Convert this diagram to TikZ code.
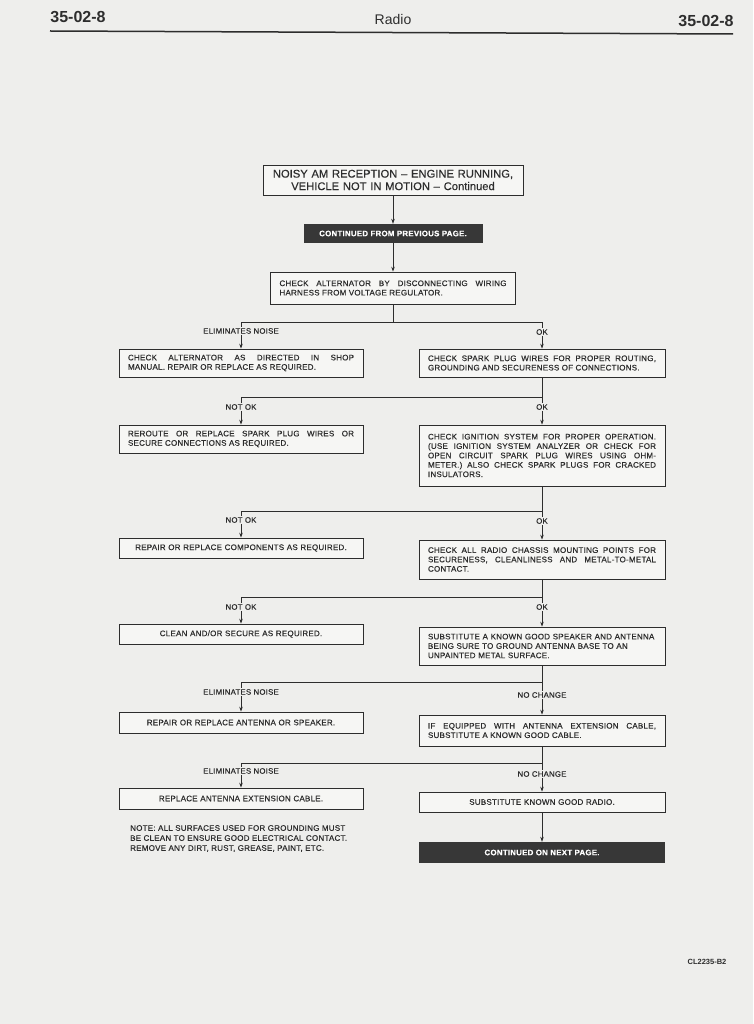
\documentclass[tikz,border=0pt]{standalone}
\usepackage{fontspec}
\setmainfont{Liberation Sans}
\newfontfamily\boxfont{Liberation Sans}[LetterSpace=3.0, FakeBold=0.5]
\newfontfamily\titlefont{Liberation Sans}[FakeBold=0.4]
\usetikzlibrary{arrows.meta,positioning}
\definecolor{paper}{RGB}{238,238,236}
\definecolor{boxfill}{RGB}{246,246,244}
\definecolor{ink}{RGB}{45,45,45}
\definecolor{bannerc}{RGB}{55,55,55}
\hyphenpenalty=10000
\exhyphenpenalty=10000

\begin{document}
\begin{tikzpicture}[x=1pt, y=-1pt,
  stepbox/.style={draw=ink, fill=boxfill, line width=0.7pt, text=ink,
                  font=\boxfont\fontsize{8}{9.4}\selectfont, align=justify,
                  inner xsep=9pt, inner ysep=2pt},
  lbox/.style={stepbox, text width=226pt},
  rbox/.style={stepbox, text width=228pt},
  banner/.style={fill=bannerc, text=white, align=center,
                 font=\boxfont\bfseries\fontsize{7.9}{9}\selectfont},
  tag/.style={fill=paper, inner sep=1pt, text=ink,
              font=\boxfont\fontsize{7.8}{8}\selectfont},
  arr/.style={-{Stealth[length=5pt,width=3.5pt]}, line width=0.7pt, color=ink},
  wire/.style={line width=0.7pt, color=ink}
]
  \fill[paper] (0,0) rectangle (753,1024);
  \useasboundingbox (0,0) rectangle (753,1024);

  % page header
  \node[font=\bfseries\fontsize{16}{18}\selectfont, text=ink] (pgl) at (78,17) {35-02-8};
  \node[font=\fontsize{14}{16}\selectfont, text=ink] (pgt) at (393,19) {Radio};
  \node[font=\bfseries\fontsize{16}{18}\selectfont, text=ink] (pgr) at (706,21) {35-02-8};
  \draw[ink, line width=1.5pt] (50,31) -- (733,34);

  % top of chart
  \node[stepbox, align=center, text width=242pt, minimum height=30pt,
        font=\titlefont\fontsize{11.2}{12.5}\selectfont] (title) at (393,180)
        {NOISY AM RECEPTION \textendash{} ENGINE RUNNING,\\ VEHICLE NOT IN MOTION \textendash{} Continued};
  \node[banner, minimum width=179pt, minimum height=19pt] (from) at (393,233.5)
        {CONTINUED FROM PREVIOUS PAGE.};
  \node[stepbox, text width=227pt, minimum height=32pt] (alt) at (393,288)
        {CHECK ALTERNATOR BY DISCONNECTING WIRING\linebreak HARNESS FROM VOLTAGE REGULATOR.};
  \draw[arr] (title) -- (from);
  \draw[arr] (from) -- (alt);

  % left column
  \node[lbox, minimum height=28pt] (l1) at (241,363)
        {CHECK ALTERNATOR AS DIRECTED IN SHOP\linebreak MANUAL. REPAIR OR REPLACE AS REQUIRED.};
  \node[lbox, minimum height=28pt] (l2) at (241,439)
        {REROUTE OR REPLACE SPARK PLUG WIRES OR\linebreak SECURE CONNECTIONS AS REQUIRED.};
  \node[lbox, align=center, minimum height=20pt] (l3) at (241,548)
        {REPAIR OR REPLACE COMPONENTS AS REQUIRED.};
  \node[lbox, align=center, minimum height=20pt] (l4) at (241,634)
        {CLEAN AND/OR SECURE AS REQUIRED.};
  \node[lbox, align=center, minimum height=21pt] (l5) at (241,722.5)
        {REPAIR OR REPLACE ANTENNA OR SPEAKER.};
  \node[lbox, align=center, minimum height=21pt] (l6) at (241,798.5)
        {REPLACE ANTENNA EXTENSION CABLE.};
  \node[anchor=north west, align=left, text=ink, inner sep=0pt,
        font=\boxfont\fontsize{8}{10}\selectfont] (note) at (130,825)
        {NOTE: ALL SURFACES USED FOR GROUNDING MUST\\
         BE CLEAN TO ENSURE GOOD ELECTRICAL CONTACT.\\
         REMOVE ANY DIRT, RUST, GREASE, PAINT, ETC.};

  % right column
  \node[rbox, minimum height=28pt] (r1) at (542,363)
        {CHECK SPARK PLUG WIRES FOR PROPER ROUTING,\linebreak GROUNDING AND SECURENESS OF CONNECTIONS.};
  \node[rbox, minimum height=61pt] (r2) at (542,455.5)
        {CHECK IGNITION SYSTEM FOR PROPER OPERATION.\linebreak
         (USE IGNITION SYSTEM ANALYZER OR CHECK FOR\linebreak
         OPEN CIRCUIT SPARK PLUG WIRES USING OHM-\linebreak
         METER.) ALSO CHECK SPARK PLUGS FOR CRACKED\linebreak
         INSULATORS.};
  \node[rbox, minimum height=39pt] (r3) at (542,559.5)
        {CHECK ALL RADIO CHASSIS MOUNTING POINTS FOR\linebreak
         SECURENESS, CLEANLINESS AND METAL-TO-METAL\linebreak CONTACT.};
  \node[rbox, align=left, minimum height=38pt] (r4) at (542,646)
        {SUBSTITUTE A KNOWN GOOD SPEAKER AND ANTENNA\\
         BEING SURE TO GROUND ANTENNA BASE TO AN\\ UNPAINTED METAL SURFACE.};
  \node[rbox, minimum height=31pt] (r5) at (542,730.5)
        {IF EQUIPPED WITH ANTENNA EXTENSION CABLE,\linebreak SUBSTITUTE A KNOWN GOOD CABLE.};
  \node[rbox, align=center, minimum height=20pt] (r6) at (542,802)
        {SUBSTITUTE KNOWN GOOD RADIO.};
  \node[banner, minimum width=246pt, minimum height=21pt] (next) at (542,852.5)
        {CONTINUED ON NEXT PAGE.};

  % branch points
  \coordinate (j1) at (393,322);
  \coordinate (j2) at (542,397);
  \coordinate (j3) at (542,511);
  \coordinate (j4) at (542,597);
  \coordinate (j5) at (542,682);
  \coordinate (j6) at (542,763);

  \draw[wire] (alt) -- (j1);
  \draw[arr] (j1) -| (l1);
  \draw[arr] (j1) -| (r1);
  \draw[arr] (j2) -| (l2);
  \draw[arr] (r1) -- (r2);
  \draw[arr] (j3) -| (l3);
  \draw[arr] (r2) -- (r3);
  \draw[arr] (j4) -| (l4);
  \draw[arr] (r3) -- (r4);
  \draw[arr] (j5) -| (l5);
  \draw[arr] (r4) -- (r5);
  \draw[arr] (j6) -| (l6);
  \draw[arr] (r5) -- (r6);
  \draw[arr] (r6) -- (next);

  % branch labels
  \node[tag] (t1l) at (241,331) {ELIMINATES NOISE};
  \node[tag] (t1r) at (542,332) {OK};
  \node[tag] (t2l) at (241,407) {NOT OK};
  \node[tag] (t2r) at (542,407) {OK};
  \node[tag] (t3l) at (241,520) {NOT OK};
  \node[tag] (t3r) at (542,521) {OK};
  \node[tag] (t4l) at (241,607) {NOT OK};
  \node[tag] (t4r) at (542,607) {OK};
  \node[tag] (t5l) at (241,692) {ELIMINATES NOISE};
  \node[tag] (t5r) at (542,695) {NO CHANGE};
  \node[tag] (t6l) at (241,771) {ELIMINATES NOISE};
  \node[tag] (t6r) at (542,774) {NO CHANGE};

  \node[font=\bfseries\fontsize{7.5}{8}\selectfont, text=ink] (ref) at (707,962) {CL2235-B2};
\end{tikzpicture}
\end{document}
